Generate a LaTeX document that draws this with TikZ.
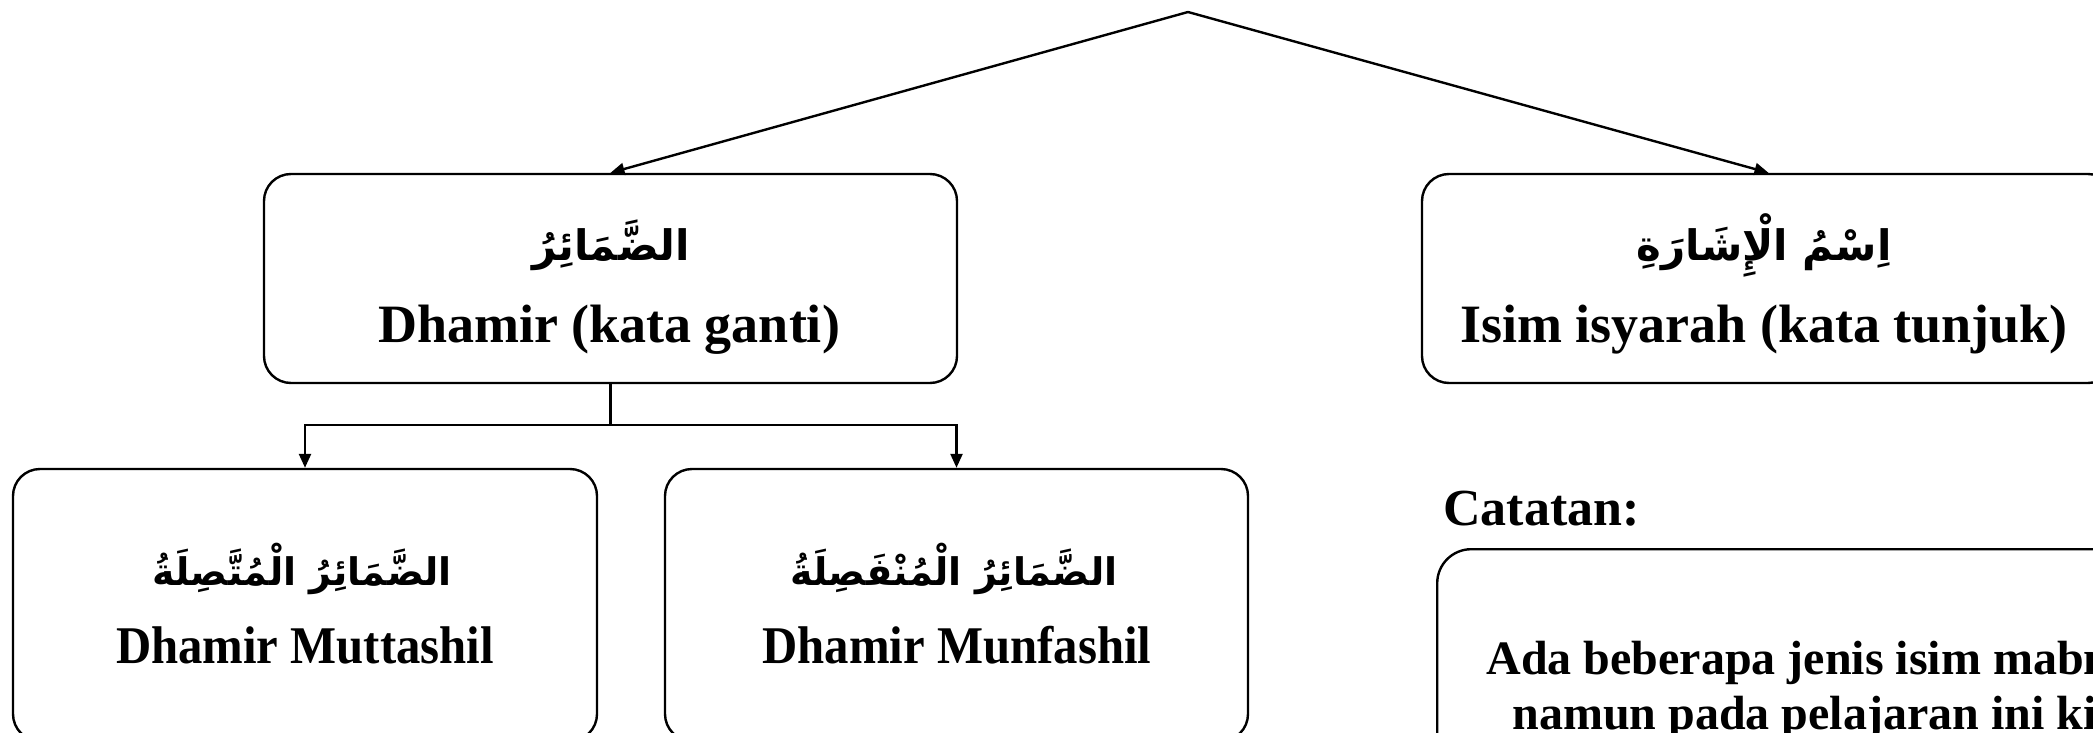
\documentclass[tikz,border=0pt]{standalone}
\usepackage{fontspec}
\setmainfont{Liberation Serif}
\newfontfamily\arabicfont[Script=Arabic]{DejaVu Sans}
\newfontfamily\condfont[FakeStretch=0.92]{Liberation Serif}
\TeXXeTstate=1
\usetikzlibrary{arrows.meta}
\begin{document}
\begin{tikzpicture}[x=0.5pt,y=-0.5pt,
  box/.style={draw, line width=1.2pt, rounded corners=13.5pt, inner sep=0pt},
  conn/.style={line width=1.2pt, -{Triangle[length=7pt,width=6pt]}},
  plain/.style={line width=1.2pt},
  eng/.style={font=\bfseries\fontsize{27}{30}\selectfont, anchor=base, inner sep=0pt},
  engc/.style={font=\condfont\bfseries\fontsize{26.5}{30}\selectfont, anchor=base, inner sep=0pt},
  ara/.style={font=\arabicfont\bfseries\fontsize{21}{30}\selectfont, anchor=base, inner sep=0pt},
  aras/.style={font=\arabicfont\bfseries\fontsize{19}{30}\selectfont, anchor=base, inner sep=0pt},
  notetxt/.style={font=\bfseries\fontsize{24}{28}\selectfont, anchor=base west, inner sep=0pt}]
\useasboundingbox (0,0) rectangle (2093,733);
\clip (0,0) rectangle (2093,733);
\coordinate (apex) at (1188,12);
\node[box, minimum width=346.5pt, minimum height=104.5pt] (dhamir) at (610.5,278.5) {};
\node[box, minimum width=346.5pt, minimum height=104.5pt] (isim) at (1768.5,278.5) {};
\node[box, minimum width=292pt, minimum height=136pt] (mutt) at (305,605) {};
\node[box, minimum width=291.5pt, minimum height=136pt] (munf) at (956.5,605) {};
\node[box, rounded corners=17pt, anchor=north west, minimum width=400pt, minimum height=150pt] (notebox) at (1436,548) {};
% texts
\node[ara] (dhamirA) at (611,260) {\beginR الضَّمَائِرُ\endR};
\node[eng] (dhamirE) at (609,342) {Dhamir (kata ganti)};
\node[ara] (isimA) at (1764,260) {\beginR اِسْمُ الْإِشَارَةِ\endR};
\node[eng] (isimE) at (1764,342) {Isim isyarah (kata tunjuk)};
\node[aras] (muttA) at (302,585) {\beginR الضَّمَائِرُ الْمُتَّصِلَةُ\endR};
\node[engc] (muttE) at (305,663) {Dhamir Muttashil};
\node[aras] (munfA) at (954,585) {\beginR الضَّمَائِرُ الْمُنْفَصِلَةُ\endR};
\node[engc] (munfE) at (957,663) {Dhamir Munfashil};
\node[font=\bfseries\fontsize{26}{30}\selectfont, anchor=base west, inner sep=0pt] (catatan) at (1443,525) {Catatan:};
\node[notetxt] (note1) at (1486,674) {Ada beberapa jenis isim mabni};
\node[notetxt] (note2) at (1512,729) {namun pada pelajaran ini kita};
% connectors
\draw[conn] (apex) -- (dhamir.north);
\draw[conn] (apex) -- (isim.north);
\draw[plain] (dhamir.south) -- ++(0,41) coordinate (split);
\draw[conn] (split) -| (mutt.north);
\draw[conn] (split) -| (munf.north);
\end{tikzpicture}
\end{document}
